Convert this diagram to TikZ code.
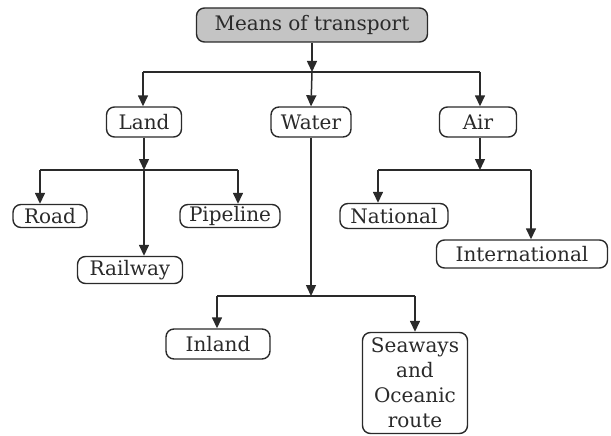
\documentclass[tikz,border=0pt]{standalone}
\usepackage{fontspec}
\setmainfont{DejaVu Serif}
\usetikzlibrary{arrows.meta}
\definecolor{ink}{HTML}{2A2A2A}
\definecolor{topfill}{HTML}{C4C4C4}
\begin{document}
\begin{tikzpicture}[x=1pt,y=-1pt,
  box/.style={draw=ink,line width=1.4pt,rounded corners=8pt,fill=white,inner sep=0pt,
    font=\fontsize{20}{24}\selectfont,text=ink,align=center},
  conn/.style={draw=ink,line width=1.5pt},
  arr/.style={conn,-{Triangle[length=11pt,width=10pt]}}]
\useasboundingbox (0,0) rectangle (611,436);
\node[box,fill=topfill,minimum width=231pt,minimum height=34pt] (top) at (312,25) {Means of transport};
\node[box,minimum width=75pt,minimum height=30pt] (land) at (144,122) {Land};
\node[box,minimum width=80pt,minimum height=30pt] (water) at (311,122) {Water};
\node[box,minimum width=77pt,minimum height=30pt] (air) at (478,122) {Air};
\node[box,minimum width=74pt,minimum height=23pt] (road) at (50,216) {Road};
\node[box,minimum width=100pt,minimum height=23pt] (pipeline) at (230,216) {Pipeline};
\node[box,minimum width=105pt,minimum height=27pt] (railway) at (130,270) {Railway};
\node[box,minimum width=108pt,minimum height=25pt] (national) at (394,216) {National};
\node[box,minimum width=171pt,minimum height=28pt] (international) at (522,254) {International};
\node[box,minimum width=104pt,minimum height=30pt] (inland) at (218,344) {Inland};
\node[box,minimum width=105pt,minimum height=101pt,font=\fontsize{20}{25}\selectfont] (seaways) at (415,383) {Seaways\\and\\Oceanic\\route};
% junctions
\coordinate (tj) at (312,72);
\coordinate (tl) at (143,72);
\coordinate (tr) at (480,72);
\coordinate (lj) at (144,170);
\coordinate (ll) at (40,170);
\coordinate (lr) at (238,170);
\coordinate (aj) at (480,170);
\coordinate (al) at (378,170);
\coordinate (ar) at (531,170);
\coordinate (wj) at (311,296);
\coordinate (wl) at (217,296);
\coordinate (wr) at (415,296);
% top level
\draw[arr] (top.south) -- (tj);
\draw[conn] (tl) -- (tr);
\draw[arr] (tl) -- (tl |- land.north);
\draw[arr] (tj) -- (water.north);
\draw[arr] (tr) -- (tr |- air.north);
% land
\draw[arr] (land.south) -- (lj);
\draw[conn] (ll) -- (lr);
\draw[arr] (ll) -- (ll |- road.north);
\draw[arr] (lr) -- (lr |- pipeline.north);
\draw[arr] (lj) -- (lj |- railway.north);
% air
\draw[arr] (air.south -| aj) -- (aj);
\draw[conn] (al) -- (ar);
\draw[arr] (al) -- (al |- national.north);
\draw[arr] (ar) -- (ar |- international.north);
% water
\draw[arr] (water.south) -- (wj);
\draw[conn] (wl) -- (wr);
\draw[arr] (wl) -- (wl |- inland.north);
\draw[arr] (wr) -- (wr |- seaways.north);
\end{tikzpicture}
\end{document}
